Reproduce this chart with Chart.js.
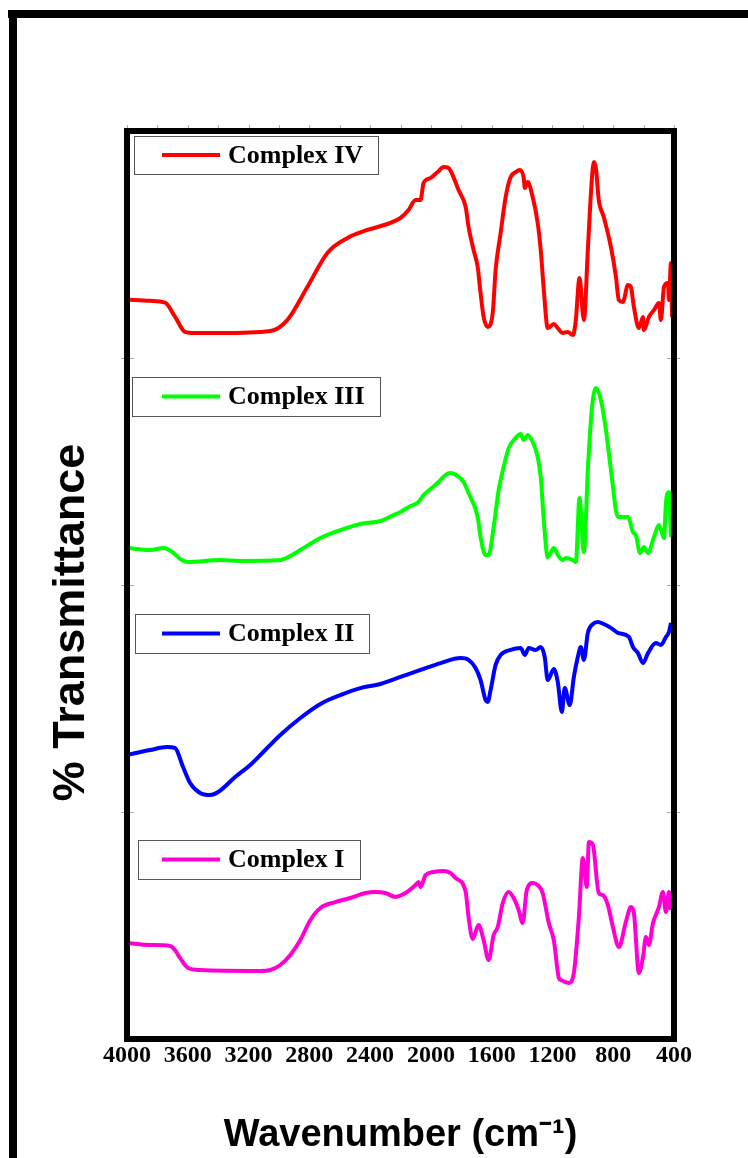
<!DOCTYPE html>
<html>
<head>
<meta charset="utf-8">
<script src="https://cdn.jsdelivr.net/npm/chart.js@4.4.1/dist/chart.umd.min.js"></script>
<style>
html,body{margin:0;padding:0;background:#fff;}
#wrap{position:relative;width:748px;height:1158px;}
</style>
</head>
<body>
<div id="wrap"><canvas id="myChart" width="748" height="1158"></canvas></div>
<script>
// series, bottom panel first
var seriesNames = ['Complex I', 'Complex II', 'Complex III', 'Complex IV'];
var seriesColors = ['#ff00d4', '#0000ff', '#00ff00', '#ff0000'];
var panelOffset = [0, 100, 200, 300];
var xTicks = [4000, 3600, 3200, 2800, 2400, 2000, 1600, 1200, 800, 400];

var wnI = [4000,3848,3716,3684,3651,3598,3519,3123,3057,2991,2925,2859,2793,2727,2629,2530,2431,2365,2299,2233,2167,2101,2081,2068,2035,1982,1916,1870,1837,1771,1752,1725,1686,1653,1620,1587,1560,1527,1488,1455,1422,1396,1369,1330,1297,1264,1224,1191,1158,1145,1092,1059,1026,1000,974,960,934,895,868,835,802,763,717,684,664,631,604,585,565,538,499,473,453,433,420];
var tI  = [42.3,41.4,41.0,39.2,35.7,31.3,30.4,30.0,30.4,32.6,37.0,43.6,52.4,57.7,60.3,62.1,64.3,64.8,64.3,62.6,64.3,67.8,69.2,67.0,72.2,73.6,74.0,73.1,70.9,64.8,53.7,44.1,50.2,43.6,34.8,45.8,49.3,59.9,64.8,62.1,56.8,51.1,65.6,68.7,67.8,64.3,51.1,43.6,26.9,26.0,24.7,29.1,53.7,79.7,67.0,86.8,85.5,64.3,63.4,59.0,49.3,40.5,51.5,58.1,55.5,29.1,36.1,44.9,41.4,51.1,58.1,64.8,55.9,64.8,56.8];

var wnII = [4000,3848,3736,3684,3631,3585,3519,3453,3400,3288,3189,3090,2991,2859,2727,2596,2464,2332,2200,2068,1936,1804,1752,1706,1673,1640,1626,1607,1574,1541,1475,1409,1382,1356,1310,1277,1251,1231,1191,1165,1138,1119,1086,1059,1033,1013,993,967,934,901,862,815,769,697,670,637,604,571,519,486,453,433,420];
var tII  = [25.1,27.3,28.6,28.2,19.8,12.8,8.4,7.5,8.8,15.4,20.7,27.3,33.9,41.4,47.6,51.5,54.6,56.4,59.5,62.6,65.6,67.8,67.0,63.4,58.1,49.3,48.5,53.7,64.8,69.2,71.4,72.2,69.2,72.2,71.4,72.7,68.3,58.1,63.0,57.3,44.1,54.6,47.1,59.5,68.3,72.7,67.0,78.9,82.8,83.7,82.8,81.1,78.9,77.1,72.7,70.0,65.6,70.0,74.4,73.6,77.1,79.3,83.3];

var wnIII = [4000,3848,3760,3700,3651,3598,3387,3255,2991,2925,2859,2727,2596,2464,2332,2246,2200,2134,2081,2048,2002,1956,1903,1870,1824,1785,1752,1692,1673,1640,1620,1587,1554,1521,1488,1442,1409,1389,1363,1330,1297,1277,1257,1231,1191,1165,1132,1112,1066,1046,1022,993,967,941,914,881,848,815,769,703,670,651,624,598,571,532,499,466,453,433,420];
var tIII  = [16.3,15.4,16.3,14.5,11.5,10.1,11.0,10.6,11.0,12.8,15.4,20.7,24.2,26.9,28.2,30.8,32.2,34.8,36.6,39.6,42.3,44.9,48.5,49.3,48.0,45.4,40.5,30.0,21.1,13.2,13.2,25.5,41.8,52.0,60.3,64.8,66.5,63.9,66.1,63.0,56.4,47.6,28.6,12.3,16.3,13.2,11.0,11.9,11.0,10.1,38.3,14.5,50.7,77.1,86.8,81.5,68.3,50.7,30.0,30.0,23.3,22.0,14.1,16.7,14.1,21.1,26.4,20.7,36.1,41.0,21.1];

var wnIV = [4000,3848,3749,3684,3618,3552,3387,3057,2945,2813,2681,2549,2418,2266,2200,2147,2101,2068,2048,2002,1956,1916,1884,1857,1818,1771,1752,1719,1692,1673,1653,1626,1593,1574,1541,1508,1475,1442,1415,1389,1382,1363,1330,1297,1277,1257,1231,1191,1165,1132,1099,1066,1059,1046,1022,993,967,941,927,914,895,862,815,782,763,736,703,684,664,631,604,598,565,532,499,486,466,440,433,420,413];
var tIV  = [25.8,25.2,24.4,18.2,11.5,11.0,11.0,11.9,16.7,31.3,46.3,52.9,56.4,59.5,61.7,65.2,69.6,69.6,77.1,79.3,81.9,84.1,83.7,80.6,74.0,66.5,57.7,47.6,40.1,28.6,18.1,13.7,19.8,38.8,55.1,70.9,79.7,81.9,82.8,79.3,74.9,77.5,70.9,59.5,47.6,30.0,13.2,15.0,13.2,11.0,11.5,10.1,11.0,16.7,35.2,16.7,47.6,78.4,86.3,83.7,69.6,62.1,48.9,35.7,25.5,24.7,32.2,31.3,22.5,13.2,18.1,12.3,18.1,21.1,24.2,16.7,31.3,33.0,25.5,41.8,18.1];

var allWn = [wnI, wnII, wnIII, wnIV];
var allT = [tI, tII, tIII, tIV];

// legend boxes (pixels), same order as series
var legendBoxes = [
    {x: 138, y: 840, w: 222, h: 39},
    {x: 135, y: 614, w: 234, h: 39},
    {x: 132, y: 377, w: 248, h: 39},
    {x: 134, y: 136, w: 244, h: 38}
];

var datasets = [];
for (var i = 0; i < seriesNames.length; i++) {
    var pts = [];
    for (var j = 0; j < allWn[i].length; j++) {
        pts.push({x: allWn[i][j], y: allT[i][j] + panelOffset[i]});
    }
    datasets.push({
        label: seriesNames[i],
        data: pts,
        borderColor: seriesColors[i],
        borderWidth: 4,
        pointRadius: 0,
        fill: false,
        cubicInterpolationMode: 'monotone'
    });
}

var framePlugin = {
    id: 'frame',
    beforeDraw: function(chart) {
        var ctx = chart.ctx;
        ctx.save();
        ctx.fillStyle = '#fff';
        ctx.fillRect(0, 0, chart.width, chart.height);
        ctx.fillStyle = '#000';
        ctx.fillRect(8, 10, 740, 8);
        ctx.fillRect(9, 10, 8, 1148);
        ctx.restore();
    },
    afterDatasetsDraw: function(chart) {
        var ctx = chart.ctx;
        var a = chart.chartArea;
        var xs = chart.scales.x, ys = chart.scales.y;
        ctx.save();
        // faint minor ticks along top
        ctx.strokeStyle = '#aaa';
        ctx.lineWidth = 1;
        for (var w = 400; w <= 4000; w += 200) {
            var px = Math.round(xs.getPixelForValue(w)) + 0.5;
            ctx.beginPath();
            ctx.moveTo(px, a.top - 6);
            ctx.lineTo(px, a.top);
            ctx.stroke();
        }
        // panel ticks on both sides
        for (var k = 1; k < panelOffset.length; k++) {
            var py = Math.round(ys.getPixelForValue(panelOffset[k])) + 0.5;
            ctx.beginPath();
            ctx.moveTo(a.left - 6, py); ctx.lineTo(a.left + 7, py);
            ctx.moveTo(a.right - 7, py); ctx.lineTo(a.right + 6, py);
            ctx.stroke();
        }
        // plot border
        ctx.strokeStyle = '#000';
        ctx.lineWidth = 6;
        ctx.strokeRect(a.left, a.top, a.right - a.left, a.bottom - a.top);

        // legends
        for (var i = 0; i < legendBoxes.length; i++) {
            var b = legendBoxes[i];
            ctx.fillStyle = '#fff';
            ctx.fillRect(b.x, b.y, b.w, b.h);
            ctx.strokeStyle = '#555';
            ctx.lineWidth = 1;
            ctx.strokeRect(b.x + 0.5, b.y + 0.5, b.w, b.h);
            var cy = b.y + b.h / 2;
            ctx.strokeStyle = seriesColors[i];
            ctx.lineWidth = 4;
            ctx.beginPath();
            ctx.moveTo(162, cy);
            ctx.lineTo(220, cy);
            ctx.stroke();
            ctx.fillStyle = '#000';
            ctx.font = 'bold 26px "Liberation Serif"';
            ctx.textBaseline = 'middle';
            ctx.textAlign = 'left';
            ctx.fillText(chart.data.datasets[i].label, 228, cy + 1);
        }
        ctx.restore();
    }
};

var myChart = new Chart(document.getElementById('myChart'), {
    type: 'line',
    data: {datasets: datasets},
    options: {
        responsive: false,
        animation: false,
        layout: {padding: {left: 30, right: 74, top: 131, bottom: 0}},
        plugins: {legend: {display: false}, tooltip: {enabled: false}},
        scales: {
            x: {
                type: 'linear',
                reverse: true,
                min: 400,
                max: 4000,
                afterBuildTicks: function(scale) {
                    scale.ticks = xTicks.map(function(v) { return {value: v}; });
                },
                afterFit: function(scale) { scale.height = 119; },
                grid: {display: false},
                border: {display: false},
                ticks: {
                    autoSkip: false,
                    maxRotation: 0,
                    padding: -6,
                    color: '#000',
                    font: {family: '"Liberation Serif"', size: 24, weight: 'bold'},
                    callback: function(v) { return String(v); }
                },
                title: {
                    display: true,
                    text: 'Wavenumber (cm\u207B\u00B9)',
                    color: '#000',
                    padding: {top: 0, bottom: 0},
                    font: {family: '"Liberation Sans"', size: 38, weight: 'bold'}
                }
            },
            y: {
                type: 'linear',
                min: 0,
                max: 400,
                afterFit: function(scale) { scale.width = 97; },
                grid: {display: false},
                border: {display: false},
                ticks: {display: false},
                title: {
                    display: true,
                    text: '% Transmittance      ',
                    color: '#000',
                    padding: {top: 15, bottom: 0},
                    font: {family: '"Liberation Sans"', size: 45, weight: 'bold'}
                }
            }
        }
    },
    plugins: [framePlugin]
});
</script>
</body>
</html>
